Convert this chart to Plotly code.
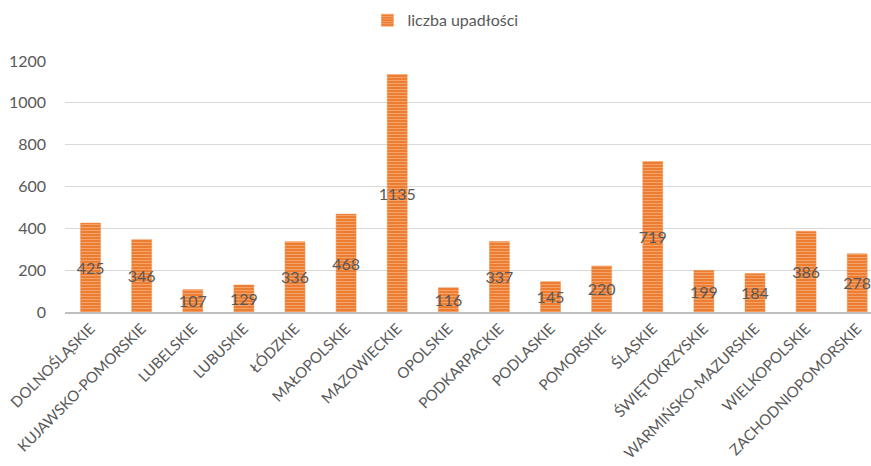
import plotly.graph_objects as go

categories = ["DOLNOŚLĄSKIE", "KUJAWSKO-POMORSKIE", "LUBELSKIE", "LUBUSKIE", "ŁÓDZKIE",
              "MAŁOPOLSKIE", "MAZOWIECKIE", "OPOLSKIE", "PODKARPACKIE", "PODLASKIE",
              "POMORSKIE", "ŚLĄSKIE", "ŚWIĘTOKRZYSKIE", "WARMIŃSKO-MAZURSKIE",
              "WIELKOPOLSKIE", "ZACHODNIOPOMORSKIE"]
values = [425, 346, 107, 129, 336, 468, 1135, 116, 337, 145, 220, 719, 199, 184, 386, 278]
series_name = "liczba upadłości"
y_ticks = [0, 200, 400, 600, 800, 1000, 1200]

FONT = "Lato, Carlito, Calibri, sans-serif"
GREY = "#595959"

fig = go.Figure()
fig.add_trace(go.Bar(
    x=categories, y=values, name=series_name,
    text=[str(v) for v in values],
    textposition="inside", insidetextanchor="middle", constraintext="none",
    textangle=0,
    textfont=dict(family=FONT, size=16, color=GREY),
    width=0.39,
    marker=dict(
        color="#ED7D31",
        line=dict(color="#F08A45", width=0.5),
        pattern=dict(shape="-", fgcolor="#FAD0B3", size=3, solidity=0.3),
    ),
    showlegend=True,
))

fig.update_layout(
    width=871, height=466,
    margin=dict(l=65, r=0, t=61, b=154),
    paper_bgcolor="white", plot_bgcolor="white",
    font=dict(family=FONT, color=GREY, size=15),
    legend=dict(orientation="h", x=0.472, xanchor="center", y=0.993, yanchor="top",
                yref="container", font=dict(size=16, color=GREY, family=FONT)),
)
fig.update_xaxes(
    type="category", range=[-0.5, 15.27], tickangle=-45,
    showline=True, linecolor="#BFBFBF", linewidth=2,
    showgrid=False, ticks="", tickfont=dict(size=15, color=GREY, family=FONT),
)
fig.update_yaxes(
    range=[0, 1200], tickvals=y_ticks, showgrid=True, gridcolor="#D9D9D9", gridwidth=1,
    zeroline=False, showline=False, ticks="", ticklabelstandoff=18,
    tickfont=dict(size=16, color=GREY, family=FONT),
)

fig.write_html("out.html")
